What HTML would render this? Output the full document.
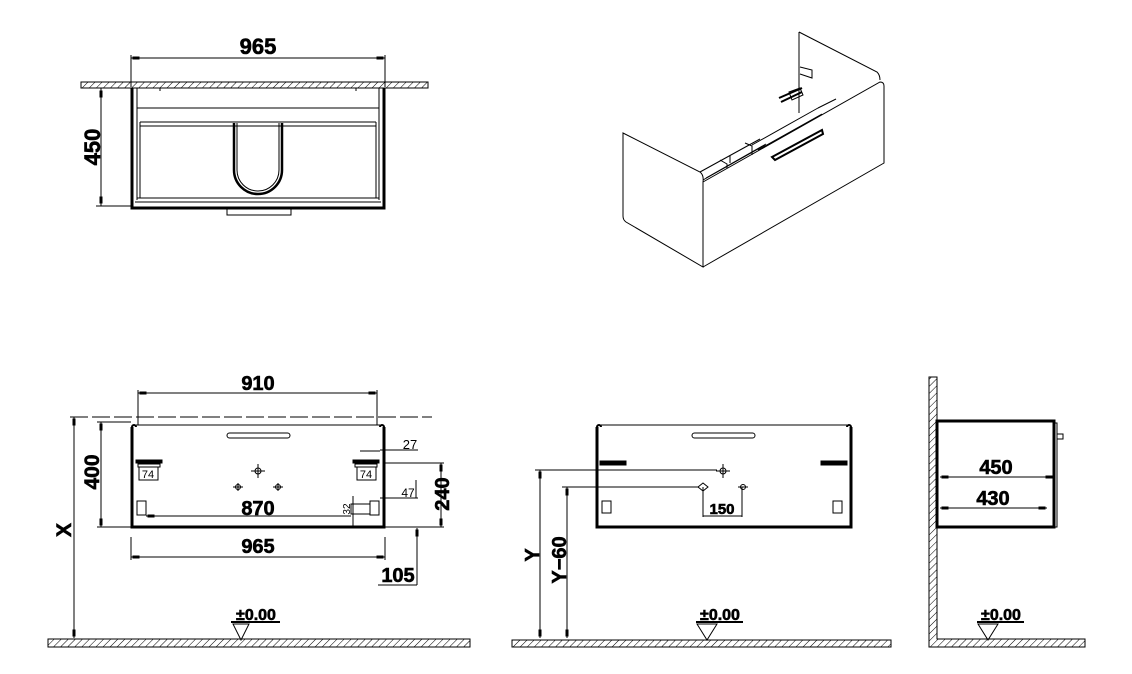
<!DOCTYPE html>
<html><head><meta charset="utf-8"><style>
html,body{margin:0;padding:0;background:#fff;}
svg{display:block;}
text{font-family:"Liberation Sans",sans-serif;font-weight:bold;fill:#000;}
.b{stroke:#000;stroke-width:0.6;}
</style></head><body>
<svg width="1132" height="674" viewBox="0 0 1132 674" xmlns="http://www.w3.org/2000/svg">
<defs>
<pattern id="h" width="5" height="5" patternUnits="userSpaceOnUse" patternTransform="rotate(45)">
<line x1="0" y1="0" x2="0" y2="5" stroke="#000" stroke-width="1"/>
</pattern>
</defs>
<g fill="none" stroke="#000" stroke-width="1">
<!-- TOP VIEW -->
<rect x="81" y="82" width="347" height="6" fill="url(#h)"/>
<line x1="131" y1="55" x2="131" y2="87"/><line x1="385" y1="55" x2="385" y2="87"/>
<line x1="131" y1="58" x2="385" y2="58"/>
<rect x="133" y="57" width="6" height="2" fill="#000"/><rect x="377" y="57" width="6" height="2" fill="#000"/>
<line x1="101" y1="88" x2="101" y2="206"/>
<line x1="96" y1="206" x2="131" y2="206"/>
<rect x="100" y="91" width="2" height="6" fill="#000"/><rect x="100" y="197" width="2" height="6" fill="#000"/>
<path d="M132,88 V208 H384 V88" stroke-width="3"/>
<line x1="137" y1="88" x2="137" y2="200"/><line x1="379" y1="88" x2="379" y2="200"/>
<line x1="137" y1="108" x2="379" y2="108"/>
<line x1="140" y1="122" x2="376" y2="122"/><line x1="140" y1="126" x2="376" y2="126"/>
<line x1="140" y1="122" x2="140" y2="198"/><line x1="376" y1="122" x2="376" y2="198"/>
<line x1="137" y1="198" x2="379" y2="198"/><line x1="135" y1="202" x2="381" y2="202"/>
<line x1="160" y1="88" x2="160" y2="91"/><line x1="356" y1="88" x2="356" y2="91"/>
<path d="M234,123 V170 A24,24 0 0 0 282,170 V123" stroke-width="2.5"/>
<path d="M237,123 V170 A21,21 0 0 0 279,170 V123"/>
<rect x="227" y="208" width="64" height="7"/>
<!-- ISO VIEW -->
<path d="M623,133 L700,172 Q704,175 703,182 L703,267 L626,222 Q623,220 623,216 Z"/>
<path d="M703,182 L880,82 Q884,82 884,86 L884,163 L703,267"/>
<path d="M799,32 L877,72 Q880,75 880,80"/>
<line x1="799" y1="32" x2="799" y2="113"/>
<path d="M700,172 L760,139 M706,178 L766,144 M703,180 L765,145"/>
<path d="M745,143 L752,146 L752,155 M720,160 L727,164 L727,168 M730,155 L730,163"/>
<path d="M752,145 L818,108 M758,150 L822,114 M818,108 L836,99"/>
<path d="M772,157 L822,130 L823,134 L775,160 Z" stroke-width="2"/>
<path d="M779,98 L802,88 M781,102 L802,92" stroke-width="2"/>
<path d="M800,67 L812,70 L812,78 L800,74 M789,92 L800,88 L803,95 L792,100 Z"/>
<!-- BOTTOM LEFT -->
<line x1="70" y1="417" x2="432" y2="417" stroke-dasharray="18,4"/>
<line x1="138" y1="390" x2="138" y2="425"/><line x1="377" y1="390" x2="377" y2="425"/>
<line x1="138" y1="393" x2="377" y2="393"/>
<rect x="140" y="392" width="6" height="2" fill="#000"/><rect x="369" y="392" width="6" height="2" fill="#000"/>
<path d="M132,427 V527 H384 V427" stroke-width="3"/>
<path d="M132,427 a2,2 0 0 1 4,0 M380,427 a2,2 0 0 1 4,0" stroke-width="2"/>
<line x1="136" y1="425" x2="380" y2="425"/>
<rect x="227" y="433" width="63" height="5" rx="2.5"/>
<line x1="101" y1="422" x2="101" y2="527"/><line x1="97" y1="422" x2="131" y2="422"/><line x1="97" y1="527" x2="131" y2="527"/>
<rect x="100" y="424" width="2" height="6" fill="#000"/><rect x="100" y="519" width="2" height="6" fill="#000"/>
<line x1="74" y1="417" x2="74" y2="638"/>
<rect x="73" y="419" width="2" height="6" fill="#000"/><rect x="73" y="630" width="2" height="6" fill="#000"/>
<rect x="136" y="460" width="26" height="3" fill="#000"/><rect x="138" y="464" width="22" height="3"/>
<rect x="139" y="467" width="19" height="13"/>
<rect x="353" y="460" width="26" height="3" fill="#000"/><rect x="355" y="464" width="22" height="3"/>
<rect x="357" y="467" width="19" height="13"/>
<rect x="137" y="501" width="9" height="14"/>
<rect x="370" y="501" width="9" height="14"/><rect x="351" y="504" width="19" height="10"/>
<line x1="146" y1="516" x2="351" y2="516"/><rect x="148" y="515" width="6" height="2" fill="#000"/>
<line x1="353" y1="496" x2="353" y2="527"/>
<line x1="380" y1="450" x2="418" y2="450"/><line x1="360" y1="451" x2="380" y2="451"/>
<line x1="384" y1="463" x2="444" y2="463"/><line x1="384" y1="527" x2="444" y2="527"/>
<line x1="441" y1="463" x2="441" y2="527"/>
<rect x="440" y="465" width="2" height="6" fill="#000"/><rect x="440" y="519" width="2" height="6" fill="#000"/>
<line x1="380" y1="498" x2="418" y2="498"/><line x1="416" y1="480" x2="416" y2="498"/>
<line x1="131" y1="537" x2="131" y2="560"/><line x1="385" y1="537" x2="385" y2="560"/>
<line x1="131" y1="557" x2="385" y2="557"/>
<rect x="133" y="556" width="6" height="2" fill="#000"/><rect x="377" y="556" width="6" height="2" fill="#000"/>
<line x1="417" y1="528" x2="417" y2="585"/><line x1="378" y1="585" x2="417" y2="585"/>
<rect x="416" y="530" width="2" height="6" fill="#000"/>
<circle cx="258" cy="471" r="3"/><path d="M258,464 V478 M251,471 H265"/>
<circle cx="238" cy="487" r="2.5"/><path d="M233,487 H243 M238,483 V491"/>
<circle cx="278" cy="487" r="2.5"/><path d="M273,487 H283 M278,483 V491"/>
<rect x="48" y="639" width="422" height="8" fill="url(#h)"/>
<path d="M233,624 L249,624 L241,640 Z"/>
<line x1="231" y1="622" x2="280" y2="622" stroke-width="2"/>
<!-- BOTTOM MIDDLE -->
<path d="M597,427 V527 H851 V427" stroke-width="3"/>
<path d="M597,427 a2,2 0 0 1 4,0 M847,427 a2,2 0 0 1 4,0" stroke-width="2"/>
<line x1="601" y1="425" x2="847" y2="425"/>
<rect x="692" y="433" width="63" height="5" rx="2.5"/>
<rect x="600" y="461" width="26" height="2" fill="#000"/><rect x="600" y="464" width="26" height="1" fill="#000"/>
<rect x="821" y="461" width="26" height="2" fill="#000"/><rect x="821" y="464" width="26" height="1" fill="#000"/>
<rect x="602" y="501" width="9" height="12"/><rect x="833" y="501" width="9" height="12"/>
<line x1="535" y1="470" x2="717" y2="470"/><line x1="562" y1="487" x2="699" y2="487"/>
<circle cx="723" cy="471" r="3"/><path d="M723,464 V478 M716,471 H730"/>
<path d="M698,487 L703,483 L708,487 L703,491 Z"/><circle cx="743" cy="487" r="2.5"/><path d="M738,487 H748"/>
<line x1="703" y1="487" x2="703" y2="517"/><line x1="742" y1="487" x2="742" y2="517"/>
<line x1="703" y1="516" x2="742" y2="516"/>
<line x1="540" y1="470" x2="540" y2="638"/><line x1="567" y1="487" x2="567" y2="638"/>
<rect x="539" y="472" width="2" height="6" fill="#000"/><rect x="539" y="630" width="2" height="6" fill="#000"/>
<rect x="566" y="489" width="2" height="6" fill="#000"/><rect x="566" y="630" width="2" height="6" fill="#000"/>
<rect x="512" y="640" width="379" height="7" fill="url(#h)"/>
<path d="M697,624 L717,624 L707,640 Z"/>
<line x1="696" y1="622" x2="743" y2="622" stroke-width="2"/>
<!-- RIGHT -->
<path d="M929,377 H937 V639 H1085 V647 H929 Z" fill="url(#h)"/>
<rect x="937" y="421" width="117" height="106" stroke-width="3"/>
<rect x="1054" y="423" width="3" height="104"/>
<rect x="1057" y="434" width="6" height="5"/>
<line x1="940" y1="477" x2="1054" y2="477"/><line x1="940" y1="508" x2="1047" y2="508"/>
<rect x="942" y="476" width="6" height="2" fill="#000"/><rect x="1046" y="476" width="6" height="2" fill="#000"/>
<rect x="942" y="507" width="6" height="2" fill="#000"/><rect x="1039" y="507" width="6" height="2" fill="#000"/>
<path d="M978,624 L998,624 L988,640 Z"/>
<line x1="977" y1="622" x2="1024" y2="622" stroke-width="2"/>
</g>
<!-- TEXT -->
<text class="b" x="258" y="54" font-size="22" text-anchor="middle">965</text>
<text class="b" transform="translate(100,147) rotate(-90)" font-size="22" text-anchor="middle">450</text>
<text class="b" x="258" y="390" font-size="20" text-anchor="middle">910</text>
<text class="b" transform="translate(99,472) rotate(-90)" font-size="21" text-anchor="middle">400</text>
<text class="b" transform="translate(71,530) rotate(-90)" font-size="21" text-anchor="middle">X</text>
<text class="b" x="258" y="515" font-size="20" text-anchor="middle">870</text>
<text class="b" x="258" y="553" font-size="20" text-anchor="middle">965</text>
<text class="b" x="398" y="582" font-size="20" text-anchor="middle">105</text>
<text class="b" transform="translate(449,494) rotate(-90)" font-size="20" text-anchor="middle">240</text>
<text x="410" y="449" font-size="13" text-anchor="middle" style="font-weight:normal">27</text>
<text x="408" y="497" font-size="12" text-anchor="middle" style="font-weight:normal">47</text>
<text transform="translate(350,509) rotate(-90)" font-size="10" text-anchor="middle" style="font-weight:normal">32</text>
<text x="148" y="478" font-size="11" text-anchor="middle" style="font-weight:normal">74</text>
<text x="366" y="478" font-size="11" text-anchor="middle" style="font-weight:normal">74</text>
<text class="b" x="256" y="620" font-size="16" text-anchor="middle">±0.00</text>
<text class="b" x="720" y="620" font-size="16" text-anchor="middle">±0.00</text>
<text class="b" x="1001" y="620" font-size="16" text-anchor="middle">±0.00</text>
<text class="b" x="722" y="514" font-size="15" text-anchor="middle">150</text>
<text class="b" transform="translate(539,555) rotate(-90)" font-size="20" text-anchor="middle">Y</text>
<text class="b" transform="translate(566,560) rotate(-90)" font-size="20" text-anchor="middle">Y−60</text>
<text class="b" x="996" y="474" font-size="20" text-anchor="middle">450</text>
<text class="b" x="993" y="505" font-size="20" text-anchor="middle">430</text>
</svg>
</body></html>
